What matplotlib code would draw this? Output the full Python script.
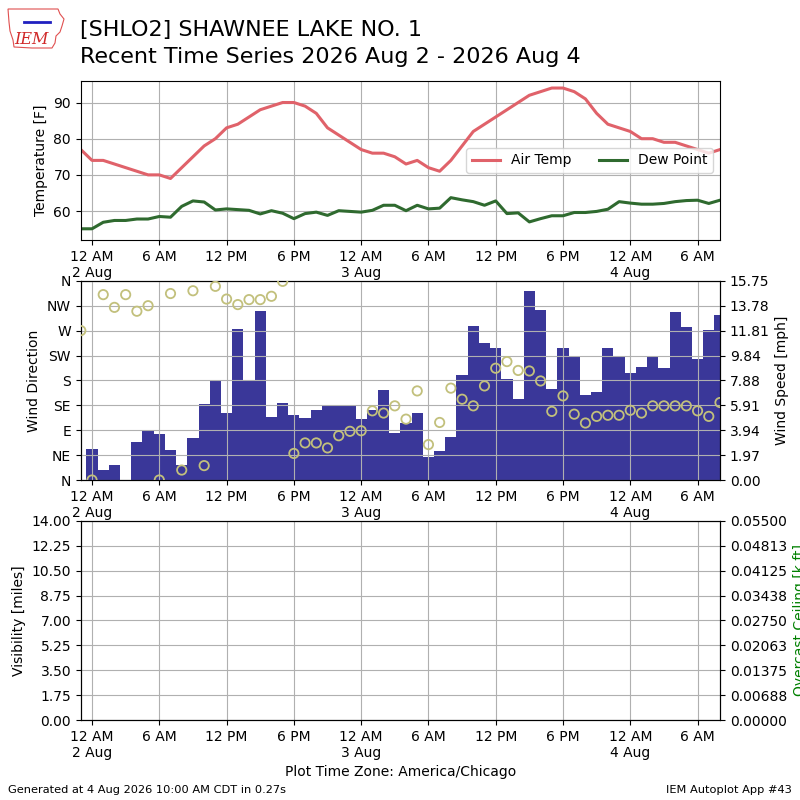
import matplotlib
matplotlib.use("Agg")
import matplotlib.pyplot as plt
import matplotlib.dates as mdates
from matplotlib.ticker import FixedLocator, FuncFormatter
from matplotlib.patches import Polygon
import numpy as np
import pandas as pd

# ---------------- data ----------------
times = pd.date_range("2026-08-01 23:00", "2026-08-04 08:00", freq="h")

air_temp = [77, 74, 74, 73, 72, 71, 70, 70, 69, 72, 75, 78, 80, 83, 84, 86, 88, 89,
            90, 90, 89, 87, 83, 81, 79, 77, 76, 76, 75, 73, 74, 72, 71, 74, 78, 82,
            84, 86, 88, 90, 92, 93, 94, 94, 93, 91, 87, 84, 83, 82, 80, 80, 79, 79,
            78, 77, 76, 77]

dew_point = [55.1, 55.1, 56.9, 57.4, 57.4, 57.8, 57.8, 58.5, 58.3, 61.3, 62.8, 62.5,
             60.3, 60.6, 60.4, 60.2, 59.2, 60.1, 59.4, 57.9, 59.3, 59.7, 58.8, 60.1,
             59.9, 59.7, 60.2, 61.6, 61.6, 60.1, 61.6, 60.6, 60.8, 63.7, 63.1, 62.6,
             61.6, 62.8, 59.3, 59.5, 57.0, 57.9, 58.7, 58.7, 59.6, 59.6, 59.9, 60.5,
             62.6, 62.2, 61.9, 61.9, 62.1, 62.6, 62.9, 63.0, 62.1, 63.0]

wind_speed = [0.0, 2.49, 0.79, 1.18, 0.0, 2.99, 3.86, 3.6, 2.36, 1.18, 3.31, 5.99,
              7.8, 5.3, 11.97, 7.85, 13.39, 4.96, 6.06, 5.12, 4.88, 5.51, 5.83, 5.83,
              5.83, 4.8, 5.51, 7.09, 3.7, 4.49, 5.28, 1.84, 2.28, 3.39, 8.27, 12.2,
              10.87, 10.4, 8.0, 6.38, 14.96, 13.47, 7.17, 10.4, 9.77, 6.69, 6.98, 10.4,
              9.69, 8.43, 8.9, 9.69, 8.82, 13.31, 12.13, 9.53, 11.89, 13.07]

wind_dir = [270, 0, 335, 312, 335, 305, 315, 0, 337, 18, 342, 26, 350, 327, 317, 326,
            326, 332, 359, 48, 67, 67, 58, 80, 88, 89, 125, 121, 134, 110, 161, 64,
            104, 166, 146, 134, 170, 202, 214, 198, 197, 179, 124, 152, 119, 103, 115,
            117, 117, 126, 121, 134, 134, 134, 134, 125, 115, 140]

dir_labels = ["N", "NE", "E", "SE", "S", "SW", "W", "NW", "N"]

title_line1 = "[SHLO2] SHAWNEE LAKE NO. 1"
title_line2 = "Recent Time Series 2026 Aug 2 - 2026 Aug 4"

# ---------------- figure ----------------
fig = plt.figure(figsize=(8, 8), dpi=100)

RED = "#e0626a"
GREEN = "#2f6a2f"
BAR = "#3a3799"
CIRC = "#c2c07c"

tick_times = pd.date_range("2026-08-02 00:00", "2026-08-04 06:00", freq="6h")


def fmt_time(x, pos=None):
    dt = mdates.num2date(x)
    h = dt.hour
    if h == 0:
        return "12 AM\n%d Aug" % dt.day
    if h == 12:
        return "12 PM"
    if h < 12:
        return "%d AM" % h
    return "%d PM" % (h - 12)


def setup_x(ax):
    ax.xaxis.set_major_locator(FixedLocator(mdates.date2num(tick_times)))
    ax.xaxis.set_major_formatter(FuncFormatter(fmt_time))
    ax.set_xlim(times[0], times[-1])


L, W = 0.101, 0.799

# ---- Top panel: temperature ----
ax1 = fig.add_axes([L, 0.7, W, 0.199])
ax1.plot(times, air_temp, color=RED, lw=2.2, label="Air Temp")
ax1.plot(times, dew_point, color=GREEN, lw=2.2, label="Dew Point")
ax1.set_ylim(52, 96)
ax1.set_yticks([60, 70, 80, 90])
ax1.set_ylabel("Temperature [F]")
ax1.grid(True)
setup_x(ax1)
ax1.legend(loc="center right", ncol=2)

# ---- Middle panel: wind ----
ax2 = fig.add_axes([L, 0.4, W, 0.249])
ax2r = ax2.twinx()
ax2r.bar(times, wind_speed, width=1.0 / 24.0, color=BAR, align="center")
ax2r.set_ylim(0, 15.75)
ax2r.set_yticks(np.linspace(0, 15.75, 9))
ax2r.yaxis.set_major_formatter(FuncFormatter(lambda v, p: "%.2f" % v))
ax2r.set_ylabel("Wind Speed [mph]")

ax2.scatter(times, wind_dir, s=45, facecolors="none", edgecolors=CIRC,
            linewidths=1.3, zorder=5)
ax2.set_ylim(0, 360)
ax2.set_yticks(np.arange(0, 361, 45))
ax2.set_yticklabels(dir_labels)
ax2.set_ylabel("Wind Direction")
ax2.grid(True)
ax2.set_zorder(ax2r.get_zorder() + 1)
ax2.patch.set_visible(False)
setup_x(ax2)
setup_x(ax2r)

# ---- Bottom panel: visibility / ceiling ----
ax3 = fig.add_axes([L, 0.1, W, 0.249])
ax3.set_ylim(0, 14)
ax3.set_yticks(np.arange(0, 14.01, 1.75))
ax3.yaxis.set_major_formatter(FuncFormatter(lambda v, p: "%.2f" % v))
ax3.set_ylabel("Visibility [miles]")
ax3.grid(True)
setup_x(ax3)
ax3.set_xlabel("Plot Time Zone: America/Chicago")
ax3r = ax3.twinx()
ax3r.set_ylim(0, 0.055)
ax3r.set_yticks(np.linspace(0, 0.055, 9))
ax3r.yaxis.set_major_formatter(FuncFormatter(lambda v, p: "%.5f" % v))
ax3r.set_ylabel("Overcast Ceiling [k ft]", color="green")

# ---- Titles and footer ----
fig.text(0.1, 1 - 36 / 800, title_line1, fontsize=16, va="baseline")
fig.text(0.1, 1 - 63 / 800, title_line2, fontsize=16, va="baseline")
fig.text(0.01, 0.0125, "Generated at 4 Aug 2026 10:00 AM CDT in 0.27s",
         fontsize=8.2, va="center")
fig.text(0.99, 0.0125, "IEM Autoplot App #43", fontsize=8.2, va="center",
         ha="right")

# ---- simple logo ----
iowa = [(8, 9), (58, 9), (60, 14), (64, 19), (62, 26), (60, 32), (56, 36),
        (55, 43), (52, 48), (32, 48), (14, 47), (13, 40), (10, 31), (9, 22), (8, 9)]
poly = Polygon([(x / 800, 1 - y / 800) for x, y in iowa], closed=True,
               fill=False, edgecolor="#e05050", lw=0.8, transform=fig.transFigure)
fig.patches.append(poly)
fig.text(31 / 800, 1 - 39 / 800, "IEM", color="#d02828", fontsize=11.5,
         family="DejaVu Serif", style="italic", ha="center", va="center")
fig.add_artist(plt.Line2D([24 / 800, 50 / 800], [1 - 22 / 800, 1 - 22 / 800],
                          color="#2020c0", lw=2, transform=fig.transFigure))

fig.savefig("out.png", dpi=100)
